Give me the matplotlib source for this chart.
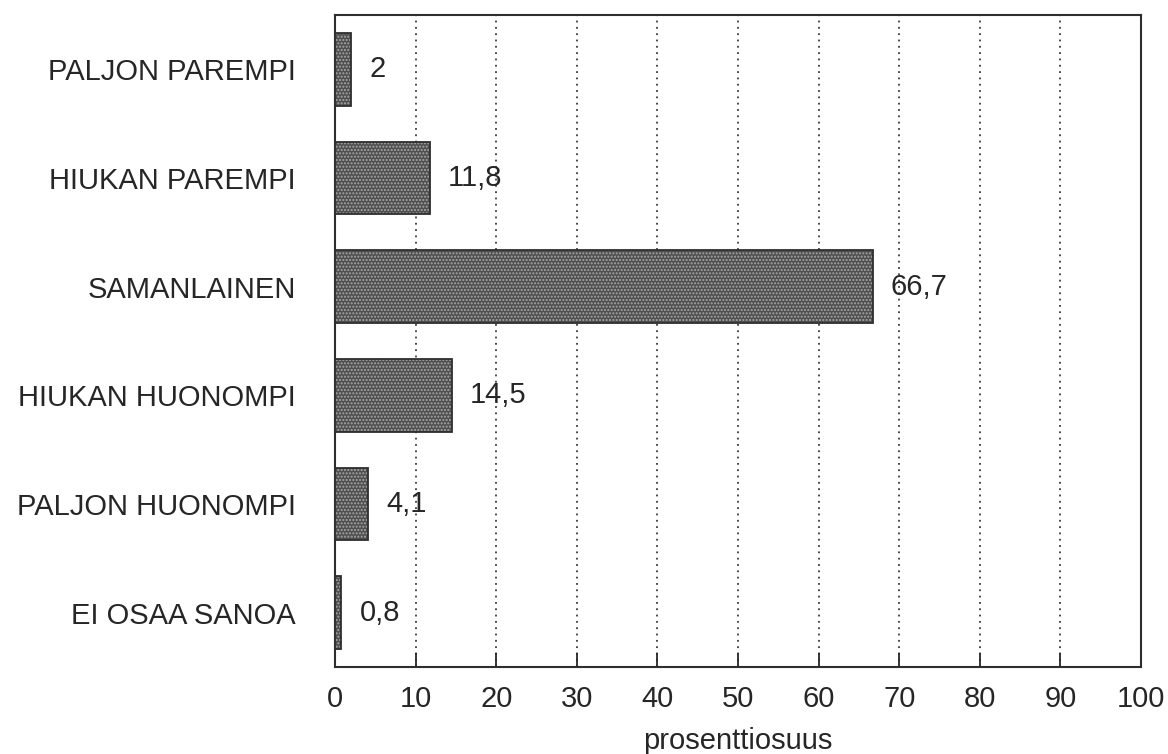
import matplotlib
matplotlib.use("Agg")
import matplotlib.pyplot as plt

categories = ["PALJON PAREMPI", "HIUKAN PAREMPI", "SAMANLAINEN",
              "HIUKAN HUONOMPI", "PALJON HUONOMPI", "EI OSAA SANOA"]
values = [2, 11.8, 66.7, 14.5, 4.1, 0.8]
value_labels = ["2", "11,8", "66,7", "14,5", "4,1", "0,8"]
xticks = [0, 10, 20, 30, 40, 50, 60, 70, 80, 90, 100]

plt.rcParams['font.family'] = ['Liberation Sans', 'DejaVu Sans']
plt.rcParams['hatch.linewidth'] = 1.0

TXT = '#262626'

fig = plt.figure(figsize=(11.68, 7.54), dpi=100)
ax = fig.add_axes([0.2868, 0.1154, 0.6901, 0.8646])

ypos = list(range(len(categories)))
ax.barh(ypos, values, height=0.67, color='#4f4f4f', edgecolor='#a8a8a8',
        hatch='.....', linewidth=0, zorder=3)
ax.barh(ypos, values, height=0.67, fill=False, edgecolor='#2e2e2e',
        linewidth=1.3, zorder=4)

for y, v, lab in zip(ypos, values, value_labels):
    ax.annotate(lab, xy=(v, y), xytext=(18, 0), textcoords='offset pixels',
                va='center', ha='left', fontsize=21, color=TXT, zorder=5)

ax.set_xlim(0, 100)
ax.set_ylim(len(categories) - 0.5, -0.5)
ax.set_xticks(xticks)
ax.set_xticklabels([str(t) for t in xticks])
ax.set_yticks(ypos)
ax.set_yticklabels(categories)

ax.tick_params(axis='x', direction='in', length=10, width=1.3, pad=13,
               labelsize=21, colors=TXT, top=False)
ax.tick_params(axis='y', length=0, pad=28, labelsize=21, colors=TXT)
ax.xaxis.grid(True, linestyle=(0, (1, 2.5)), color='#3a3a3a', linewidth=1.3, zorder=1)
ax.set_axisbelow(True)

for s in ax.spines.values():
    s.set_linewidth(1.5)
    s.set_color('#2e2e2e')

ax.set_xlabel("prosenttiosuus", fontsize=21, color=TXT, labelpad=10)

fig.savefig("out.png", dpi=100, facecolor='white')
